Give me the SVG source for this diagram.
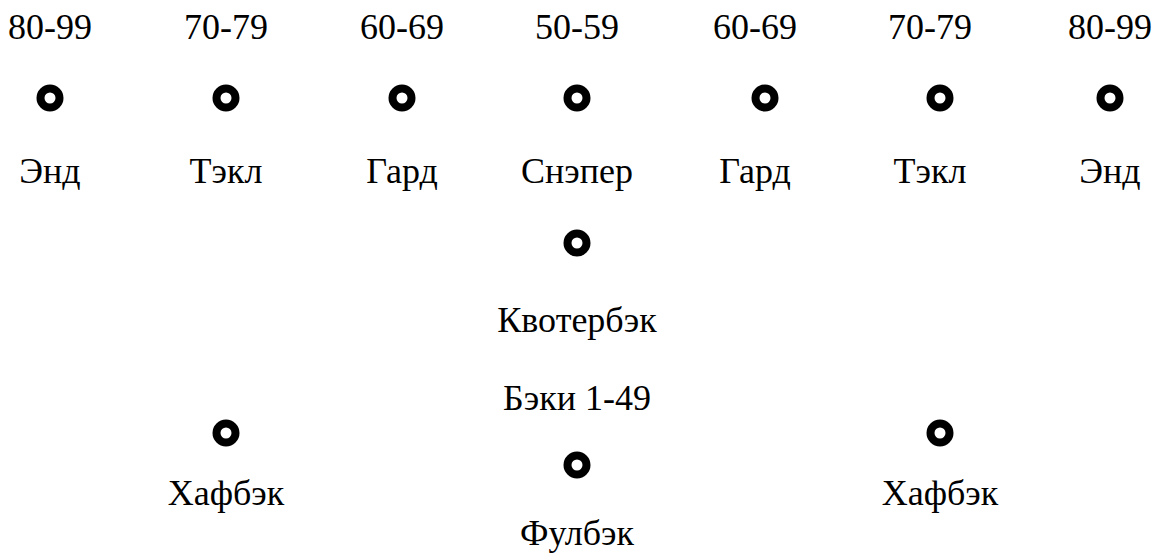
<svg xmlns="http://www.w3.org/2000/svg" width="1165" height="557" viewBox="0 0 1165 557">
<style>
text{font-size:36px;fill:#000;text-anchor:middle}
.d{fill:none;stroke:#000;stroke-width:8}
</style>
<rect width="1165" height="557" fill="#fff"/>
<g font-family="Liberation Serif, Times New Roman, DejaVu Serif, serif">
<g id="end-left"><text x="50" y="39">80-99</text><circle class="d" cx="50" cy="98" r="9.5"/><text x="50" y="183">Энд</text></g>
<g id="tackle-left"><text x="226" y="39">70-79</text><circle class="d" cx="226" cy="98" r="9.5"/><text x="226" y="183">Тэкл</text></g>
<g id="guard-left"><text x="402" y="39">60-69</text><circle class="d" cx="402" cy="98" r="9.5"/><text x="402" y="183">Гард</text></g>
<g id="snapper"><text x="577" y="39">50-59</text><circle class="d" cx="577" cy="98" r="9.5"/><text x="577" y="183">Снэпер</text></g>
<g id="guard-right"><text x="755" y="39">60-69</text><circle class="d" cx="765" cy="98" r="9.5"/><text x="755" y="183">Гард</text></g>
<g id="tackle-right"><text x="930" y="39">70-79</text><circle class="d" cx="940" cy="98" r="9.5"/><text x="930" y="183">Тэкл</text></g>
<g id="end-right"><text x="1110" y="39">80-99</text><circle class="d" cx="1110" cy="98" r="9.5"/><text x="1110" y="183">Энд</text></g>
<g id="quarterback"><circle class="d" cx="577" cy="243" r="9.5"/><text x="577" y="332">Квотербэк</text></g>
<g id="backs-label"><text x="577" y="410">Бэки 1-49</text></g>
<g id="halfback-left"><circle class="d" cx="226" cy="433" r="9.5"/><text x="226" y="505">Хафбэк</text></g>
<g id="fullback"><circle class="d" cx="577" cy="465" r="9.5"/><text x="577" y="545">Фулбэк</text></g>
<g id="halfback-right"><circle class="d" cx="940" cy="433" r="9.5"/><text x="940" y="505">Хафбэк</text></g>
</g>
<g id="connectors"></g>
</svg>
